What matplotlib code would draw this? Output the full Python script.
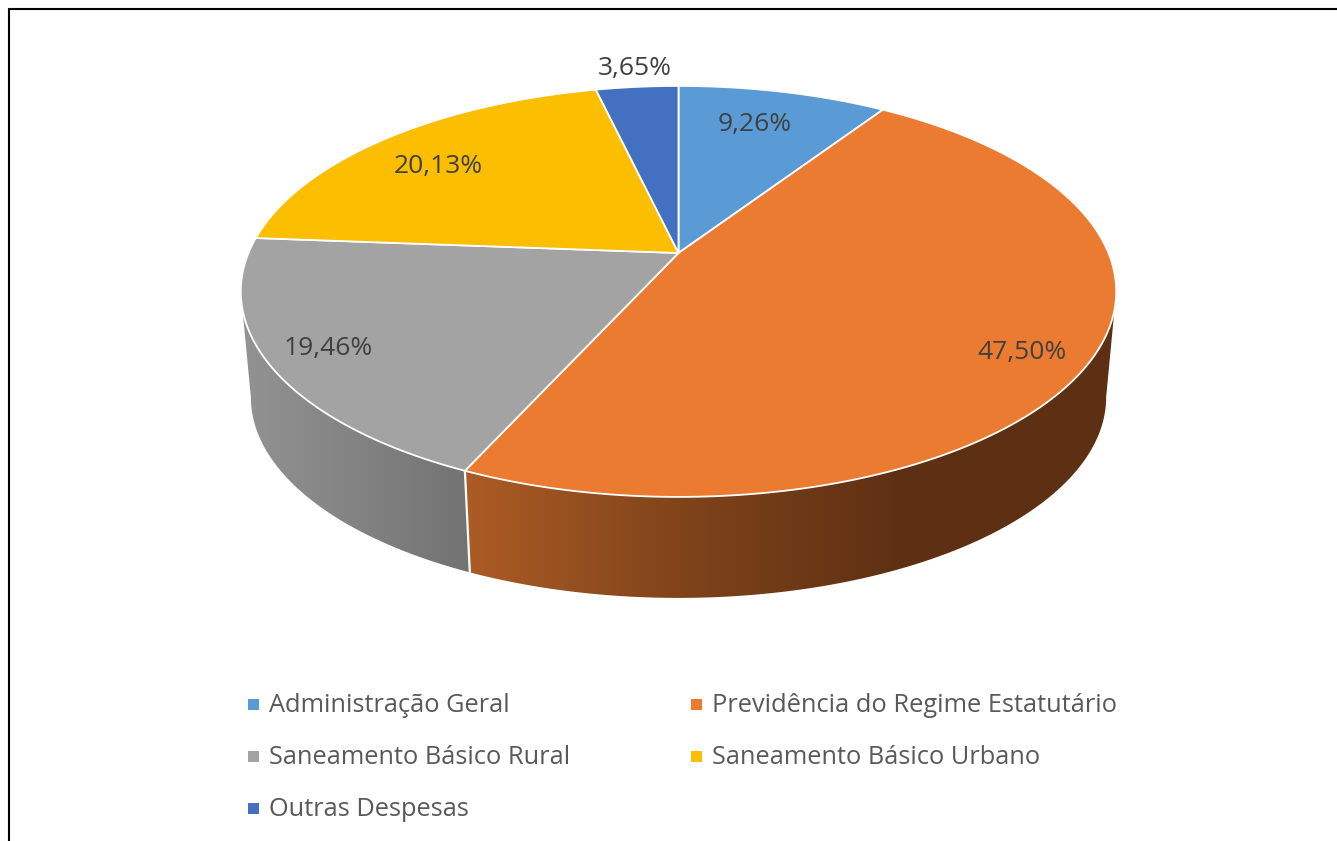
import numpy as np
import matplotlib
matplotlib.use("Agg")
import matplotlib.pyplot as plt
from matplotlib.colors import LinearSegmentedColormap, to_rgb
from matplotlib.patches import Polygon

plt.rcParams['font.family'] = ['Open Sans', 'DejaVu Sans']

# Chart data
categories = ["Administração Geral", "Previdência do Regime Estatutário",
              "Saneamento Básico Rural", "Saneamento Básico Urbano", "Outras Despesas"]
shares = [9.26, 47.50, 19.46, 20.13, 3.65]
share_labels = ["9,26%", "47,50%", "19,46%", "20,13%", "3,65%"]
colors = ["#5B9BD5", "#EB7B30", "#A3A3A3", "#FBBE00", "#4370C1"]

# where the percent labels sit, in pixels
label_x = [755, 1022, 328, 438, 635]
label_y = [124, 352, 348, 166, 68]

# perspective of the disc, fitted on the picture
CX, CY = 678.5, 253
A, B, K = 430, 198.3, 0.187
BOTTOM_Y, BOTTOM_S = 359.6, 0.977


def ring(t, y0=CY, s=1.0):
    # t is clockwise degrees from 12 o'clock
    r = np.radians(t)
    u, v = np.sin(r), np.cos(r)
    w = 1 + K * v
    return CX + s * A * u / w, y0 - s * B * v / w


fig = plt.figure(figsize=(13.37, 8.41), dpi=100)
ax = fig.add_axes([0, 0, 1, 1])

edges = np.concatenate([[0], np.cumsum(shares)]) / np.sum(shares) * 360

# angle where the rim turns away from the viewer
turn = np.degrees(np.arcsin(K))


def wall(t0, t1, stops, zorder):
    t = np.linspace(t0, t1, 200)
    x1, y1 = ring(t)
    x2, y2 = ring(t, BOTTOM_Y, BOTTOM_S)
    pts = np.column_stack([np.r_[x1, x2[::-1]], np.r_[y1, y2[::-1]]])
    cmap = LinearSegmentedColormap.from_list("w", [to_rgb(c) for _, c in stops])
    xs = np.linspace(stops[0][0], stops[-1][0], 400)
    im = ax.imshow(xs[None, :], extent=[stops[0][0], stops[-1][0], 620, 60], cmap=cmap,
                   aspect='auto', zorder=zorder)
    im.set_clip_path(Polygon(pts, transform=ax.transData))


# side walls: only the two slices that face the viewer show one
wall(90 + turn, edges[2], [(465, "#AC5C25"), (700, "#7F431A"), (860, "#5E3013"), (1120, "#5E3013")], 1)
wall(edges[2], 270 - turn, [(240, "#939393"), (475, "#727272")], 1)

# seam between both walls
x_top, y_top = ring(edges[2])
x_bot, y_bot = ring(edges[2], BOTTOM_Y, BOTTOM_S)
ax.plot([x_top, x_bot], [y_top, y_bot], color="white", lw=1.6, zorder=2)

# top of the disc
for i in range(len(shares)):
    t = np.linspace(edges[i], edges[i + 1], 200)
    x, y = ring(t)
    ax.fill(np.r_[CX, x], np.r_[CY, y], facecolor=colors[i], edgecolor="white",
            lw=1.3, joinstyle='round', zorder=3)

for i in range(len(shares)):
    ax.text(label_x[i], label_y[i], share_labels[i], color="#404040", fontsize=19,
            ha='center', va='center', zorder=4)

# legend
legend_x = [248, 691, 248, 691, 248]
legend_y = [704, 704, 756, 756, 808]
for i in range(len(categories)):
    ax.add_patch(plt.Rectangle((legend_x[i], legend_y[i] - 5.5), 11, 11, color=colors[i], lw=0))
    ax.text(legend_x[i] + 21, legend_y[i] + 2, categories[i], color="#595959", fontsize=18.3,
            ha='left', va='center')

# frame of the screenshot, cut off at the right and bottom
ax.plot([8.5, 8.5, 1337], [841, 9, 9], color="black", lw=1.5, solid_joinstyle='miter')

ax.set_xlim(0, 1337)
ax.set_ylim(841, 0)
ax.axis('off')

fig.savefig("out.png", dpi=100)
